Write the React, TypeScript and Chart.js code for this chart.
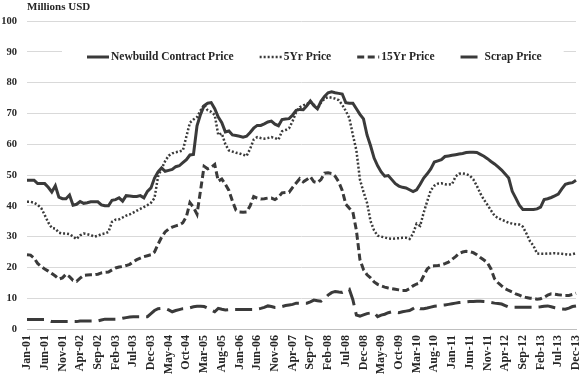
import React, { useEffect, useRef } from 'react';
import { Chart, registerables } from 'chart.js';

Chart.register(...registerables);

const MONTHS = ['Jan', 'Feb', 'Mar', 'Apr', 'May', 'Jun', 'Jul', 'Aug', 'Sep', 'Oct', 'Nov', 'Dec'];
const YEARS = ['01', '02', '03', '04', '05', '06', '07', '08', '09', '10', '11', '12', '13'];
const CATEGORIES = YEARS.flatMap((y) => MONTHS.map((m) => `${m}-${y}`));
const LABEL_EVERY = 5;

const SERIES_NAMES = ['Newbuild Contract Price', '5Yr Price', '15Yr Price', 'Scrap Price'];
const Y_MIN = 0;
const Y_MAX = 100;
const Y_STEP = 10;
const Y_TITLE = 'Millions USD';

const NEWBUILD = [
  48.3, 48.3, 48.3, 47.2, 47.2, 47.2, 46.0, 44.5, 46.5, 42.8, 42.3, 42.3,
  43.5, 40.2, 40.5, 41.4, 40.8, 41.0, 41.3, 41.3, 41.3, 40.3, 40.0, 40.0,
  41.8, 42.0, 42.6, 41.5, 43.3, 43.2, 43.0, 43.0, 43.3, 42.6, 44.7, 45.8,
  49.0, 51.0, 52.3, 51.2, 51.5, 51.8, 52.7, 53.0, 54.0, 55.0, 56.5, 56.7,
  66.0, 69.7, 72.5, 73.3, 73.5, 71.5, 68.8, 67.0, 64.0, 64.3, 63.0, 62.8,
  62.6, 62.3, 62.6, 63.8, 65.2, 66.1, 66.1, 66.6, 67.2, 67.5, 66.5, 66.0,
  68.0, 68.2, 68.3, 69.5, 71.0, 71.3, 71.2, 72.5, 74.0, 72.5, 71.5, 73.9,
  75.5, 76.7, 77.0, 76.7, 76.5, 76.3, 73.5, 73.3, 73.3, 71.5, 69.7, 68.2,
  63.0, 59.5, 55.5, 53.0, 51.0, 49.6, 49.8, 48.5, 47.2, 46.4, 46.0, 45.8,
  45.2, 44.6, 45.2, 47.0, 49.0, 50.4, 52.0, 54.2, 54.6, 55.0, 56.0, 56.2,
  56.4, 56.6, 56.8, 57.0, 57.3, 57.4, 57.4, 57.3, 56.7, 56.1, 55.3, 54.4,
  53.6, 52.6, 51.6, 50.3, 49.0, 44.7, 42.5, 40.2, 38.8, 38.8, 38.8, 38.8,
  39.0, 39.6, 42.0, 42.3, 42.7, 43.2, 43.8, 45.5, 47.0, 47.3, 47.5, 48.3,
];

const FIVE_YR = [
  41.3, 41.3, 41.0, 40.3, 39.3, 37.0, 34.6, 32.8, 32.6, 31.3, 31.0, 31.0,
  30.8, 30.0, 29.2, 30.4, 31.0, 30.8, 30.5, 30.0, 30.3, 30.8, 31.0, 31.5,
  34.8, 35.5, 35.6, 36.2, 36.8, 37.2, 37.8, 38.4, 39.0, 39.6, 40.2, 41.0,
  42.5, 49.5, 52.0, 54.5, 56.3, 57.0, 57.4, 57.6, 58.0, 62.5, 67.0, 68.0,
  68.8, 71.0, 72.8, 71.0, 70.5, 69.5, 63.0, 63.5, 60.0, 58.0, 57.6, 57.2,
  57.0, 56.6, 56.2, 58.5, 61.5, 62.3, 62.0, 61.8, 62.0, 62.3, 62.0, 61.5,
  64.2, 64.6, 65.2, 67.5, 70.5, 72.0, 72.6, 73.0, 73.8, 72.8, 71.5, 73.5,
  74.8, 75.3, 75.1, 74.8, 74.3, 72.8, 70.8, 68.5, 63.0, 58.0, 48.5, 44.5,
  41.0, 35.0, 32.0, 30.3, 30.0, 29.7, 29.4, 29.3, 29.4, 29.5, 29.6, 29.6,
  29.2, 31.0, 34.2, 33.5, 37.8, 41.5, 45.0, 46.5, 47.2, 47.3, 47.0, 46.9,
  47.0, 49.5, 50.4, 50.5, 50.3, 49.8, 48.6, 46.5, 44.0, 42.0, 40.3, 38.5,
  36.8, 36.0, 35.5, 35.0, 34.5, 34.2, 34.0, 33.9, 33.2, 31.0, 28.5, 27.0,
  24.5, 24.4, 24.4, 24.5, 24.5, 24.6, 24.5, 24.4, 24.3, 24.1, 24.3, 24.6,
];

const FIFTEEN_YR = [
  24.1, 24.0, 23.0, 21.3, 20.3, 19.5, 18.8, 18.0, 17.2, 16.2, 16.6, 17.8,
  17.0, 15.8, 15.5, 16.5, 17.4, 17.5, 17.6, 17.6, 17.8, 18.2, 18.4, 18.5,
  19.2, 19.8, 20.1, 20.3, 20.6, 21.0, 21.8, 22.5, 23.0, 23.5, 23.8, 24.1,
  25.0, 27.5, 29.8, 31.5, 32.5, 33.1, 33.5, 33.8, 34.5, 36.5, 41.0, 39.5,
  37.3, 45.0, 52.8, 52.0, 52.5, 53.4, 48.0, 48.7, 47.0, 45.0, 41.5, 38.6,
  38.0, 37.9, 38.0, 40.0, 43.0, 42.5, 42.2, 42.3, 42.5, 42.5, 42.0, 42.8,
  44.2, 44.3, 44.4, 46.0, 47.4, 48.8, 47.8, 48.5, 49.4, 47.8, 47.5, 48.5,
  50.6, 50.7, 50.5, 49.6, 47.8, 45.0, 40.5, 39.2, 38.0, 32.0, 22.5, 19.3,
  17.6, 16.6, 15.3, 14.5, 14.0, 13.6, 13.3, 13.1, 12.9, 12.7, 12.5, 12.5,
  13.1, 14.0, 14.6, 15.0, 17.3, 19.5, 20.4, 20.5, 20.6, 20.8, 21.2, 21.7,
  22.6, 23.5, 24.5, 25.0, 25.2, 25.1, 24.8, 24.1, 23.2, 22.4, 21.5, 19.5,
  16.3, 15.0, 14.0, 13.1, 12.5, 12.0, 11.4, 11.0, 10.5, 10.2, 10.0, 9.9,
  9.7, 9.8, 10.3, 11.0, 11.4, 11.3, 11.1, 11.0, 10.9, 10.9, 11.2, 11.6,
];

const SCRAP = [
  3.1, 3.1, 3.1, 3.1, 3.1, 3.1, 2.8, 2.4, 2.4, 2.4, 2.4, 2.4,
  2.4, 2.4, 2.4, 2.6, 2.6, 2.6, 2.6, 2.6, 2.6, 2.9, 3.2, 3.2,
  3.2, 3.2, 3.2, 3.5, 3.7, 3.9, 4.0, 4.0, 4.0, 4.0, 4.0, 5.0,
  6.0, 6.6, 6.7, 6.7, 6.2, 5.6, 6.0, 6.3, 6.6, 6.7, 6.9, 7.2,
  7.4, 7.4, 7.3, 6.8, 6.2, 5.6, 6.7, 6.4, 6.2, 6.3, 6.3, 6.3,
  6.3, 6.3, 6.3, 6.3, 6.3, 6.5, 6.7, 7.0, 7.5, 7.3, 7.0, 7.0,
  7.3, 7.6, 7.8, 8.0, 8.4, 8.4, 8.4, 8.4, 8.8, 9.4, 9.2, 9.0,
  9.8, 11.0, 11.8, 12.2, 12.0, 11.9, 12.4, 12.9, 9.5, 4.5, 4.2, 4.6,
  5.0, 5.2, 5.3, 4.0, 4.5, 4.8, 5.3, 5.6, 5.5, 5.3, 5.6, 5.8,
  6.0, 6.6, 7.3, 6.6, 6.6, 6.8, 7.1, 7.4, 7.5, 7.7, 7.8, 8.0,
  8.2, 8.4, 8.6, 8.7, 8.8, 8.9, 8.9, 9.0, 9.0, 8.9, 8.8, 8.6,
  8.4, 8.3, 8.1, 7.6, 7.1, 7.1, 7.1, 7.1, 7.1, 7.1, 7.1, 7.1,
  7.1, 7.2, 7.4, 7.5, 7.2, 6.9, 6.7, 6.5, 6.4, 6.8, 7.3, 7.5,
];

const LINE_COLOR = '#3a3a3a';
const TEXT_COLOR = '#262626';
const GRID_COLOR = '#d9d9d9';
const AXIS_COLOR = '#bfbfbf';
const FONT_FAMILY = '"Liberation Serif", "Times New Roman", serif';

const overlayPlugin = {
  id: 'overlay',
  afterDraw(chart: any) {
    const { ctx, chartArea } = chart;
    const datasets = chart.data.datasets;
    ctx.save();
    // legend (drawn inside the plot, with a white background)
    ctx.font = `bold 11.5px ${FONT_FAMILY}`;
    const sample = 22;
    const textGap = 2;
    const itemGap = 26;
    const widths = datasets.map((d: any) => sample + textGap + ctx.measureText(d.label).width);
    const total = widths.reduce((a: number, b: number) => a + b, 0) + itemGap * (datasets.length - 1);
    let x = chartArea.left + 60;
    const y = chartArea.top + 36;
    ctx.fillStyle = '#ffffff';
    ctx.fillRect(x - 25, y - 12, total + 47, 24);
    datasets.forEach((d: any, i: number) => {
      ctx.save();
      ctx.strokeStyle = d.borderColor;
      ctx.lineWidth = d.borderWidth;
      ctx.setLineDash(d.borderDash || []);
      ctx.beginPath();
      ctx.moveTo(x, y);
      ctx.lineTo(x + sample, y);
      ctx.stroke();
      ctx.restore();
      ctx.fillStyle = TEXT_COLOR;
      ctx.textAlign = 'left';
      ctx.textBaseline = 'middle';
      ctx.fillText(d.label, x + sample + textGap, y + 0.5);
      x += widths[i] + itemGap;
    });
    // unit title
    ctx.font = `bold 11px ${FONT_FAMILY}`;
    ctx.fillStyle = TEXT_COLOR;
    ctx.textAlign = 'left';
    ctx.textBaseline = 'middle';
    ctx.fillText(Y_TITLE, chartArea.left, 7);
    ctx.restore();
  },
};

export default function App() {
  const canvasRef = useRef<HTMLCanvasElement | null>(null);

  useEffect(() => {
    const canvas = canvasRef.current;
    if (!canvas) return;
    const base = {
      borderColor: LINE_COLOR,
      backgroundColor: LINE_COLOR,
      pointRadius: 0,
      pointHoverRadius: 0,
      fill: false,
      tension: 0,
    };
    const chart = new Chart(canvas, {
      type: 'line',
      data: {
        labels: CATEGORIES,
        datasets: [
          { ...base, label: SERIES_NAMES[0], data: NEWBUILD, borderWidth: 3 },
          { ...base, label: SERIES_NAMES[1], data: FIVE_YR, borderWidth: 2.5, borderDash: [2, 2] },
          { ...base, label: SERIES_NAMES[2], data: FIFTEEN_YR, borderWidth: 3, borderDash: [7, 3.5] },
          { ...base, label: SERIES_NAMES[3], data: SCRAP, borderWidth: 3, borderDash: [17, 7] },
        ],
      },
      options: {
        responsive: false,
        animation: false,
        layout: { padding: { top: 21, right: 6, bottom: 0, left: 0 } },
        scales: {
          x: {
            type: 'category',
            offset: false,
            grid: { display: false, drawTicks: false },
            border: { display: true, color: AXIS_COLOR, width: 1 },
            ticks: {
              autoSkip: false,
              maxRotation: 90,
              minRotation: 90,
              padding: 6,
              font: { family: FONT_FAMILY, size: 12, weight: 'bold' },
              color: TEXT_COLOR,
              callback: (_v: any, i: number) => (i % LABEL_EVERY === 0 ? CATEGORIES[i] : ''),
            },
            afterFit: (scale: any) => {
              scale.height = 46;
              scale.paddingLeft = 0;
              scale.paddingRight = 0;
            },
          },
          y: {
            min: Y_MIN,
            max: Y_MAX,
            ticks: { stepSize: Y_STEP, padding: 10, font: { family: FONT_FAMILY, size: 10.5, weight: 'bold' }, color: TEXT_COLOR },
            grid: { color: GRID_COLOR, drawTicks: false },
            border: { display: false },
            afterFit: (scale: any) => {
              scale.width = 27;
            },
          },
        },
        plugins: {
          legend: { display: false },
          tooltip: { enabled: false },
        },
      } as any,
      plugins: [overlayPlugin],
    });
    return () => chart.destroy();
  }, []);

  return (
    <div style={{ position: 'fixed', left: 0, top: 0, width: 582, height: 375, background: '#fff' }}>
      <canvas ref={canvasRef} width={582} height={375} style={{ display: 'block' }} />
    </div>
  );
}
